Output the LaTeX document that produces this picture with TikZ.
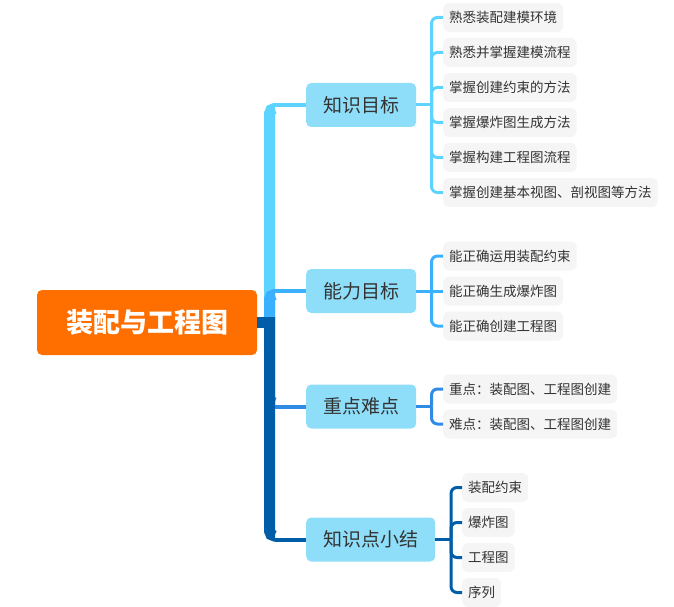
\documentclass[tikz,border=0pt]{standalone}
\usepackage{fontspec}
\setmainfont{Noto Sans CJK SC}

\definecolor{rootorange}{HTML}{FF6F00}
\definecolor{topicfill}{HTML}{8EDEF9}
\definecolor{leaffill}{HTML}{F5F5F5}
\definecolor{textgray}{HTML}{333333}
\definecolor{brA}{HTML}{5CD4FF}
\definecolor{brB}{HTML}{3BB0FF}
\definecolor{brC}{HTML}{2E8CE6}
\definecolor{brD}{HTML}{005EA8}

\tikzset{
  rootbox/.style={fill=rootorange, text=white, rounded corners=5pt,
    minimum width=220pt, minimum height=65pt,
    font=\fontsize{27}{30}\selectfont\bfseries},
  topicbox/.style={fill=topicfill, text=textgray, rounded corners=5pt,
    anchor=west, minimum height=44pt, inner xsep=17pt,
    font=\fontsize{19}{22}\selectfont},
  leafbox/.style={fill=leaffill, text=textgray, rounded corners=6pt,
    anchor=west, minimum height=29pt, inner xsep=6pt,
    font=\fontsize{13.5}{16}\selectfont},
  trunk/.style={line width=11pt, rounded corners=5pt},
  twig/.style={line width=4pt},
  leafline/.style={line width=3pt, rounded corners=6pt},
}

\begin{document}
\begin{tikzpicture}[x=1pt, y=-1pt]
\useasboundingbox (0,0) rectangle (674,607);

% root
\node[rootbox] (root) at (147,322.5) {装配与工程图};
\coordinate (hub) at (269.5,322.5);

% main topics
\node[topicbox] (know) at (306,105) {知识目标};
\node[topicbox] (skill) at (306,291) {能力目标};
\node[topicbox] (focus) at (306,406.5) {重点难点};
\node[topicbox] (summ) at (306,539.5) {知识点小结};

% main branches
\draw[trunk, brA] (hub) -- (269.5,108.5) -- (275,108.5);
\draw[twig, brA] (275,105) -- (know.west);
\draw[trunk, brB] (hub) -- (269.5,294.5) -- (275,294.5);
\draw[twig, brB] (275,291) -- (skill.west);
\draw[trunk, brC] (hub) -- (269.5,403) -- (275,403);
\draw[twig, brC] (275,406.5) -- (focus.west);
\draw[trunk, brD] (269.5,317) -- (269.5,536) -- (275,536);
\draw[twig, brD] (275,539.5) -- (summ.west);
\draw[line width=11pt, brD] (root.east) -- (275,322.5);

% knowledge goals
\node[leafbox] (k1) at (443,17.5) {熟悉装配建模环境};
\node[leafbox] (k2) at (443,52.5) {熟悉并掌握建模流程};
\node[leafbox] (k3) at (443,87.5) {掌握创建约束的方法};
\node[leafbox] (k4) at (443,122.5) {掌握爆炸图生成方法};
\node[leafbox] (k5) at (443,157.5) {掌握构建工程图流程};
\node[leafbox] (k6) at (443,192.5) {掌握创建基本视图、剖视图等方法};
\coordinate (knowfork) at (431.5,105);
\draw[leafline, brA] (know.east) -- (knowfork);
\foreach \n in {k1,k2,k3,k4,k5,k6}
  \draw[leafline, brA] (knowfork) |- (\n.west);

% skill goals
\node[leafbox] (s1) at (443,256) {能正确运用装配约束};
\node[leafbox] (s2) at (443,291) {能正确生成爆炸图};
\node[leafbox] (s3) at (443,326) {能正确创建工程图};
\coordinate (skillfork) at (431.5,291);
\draw[leafline, brB] (skill.east) -- (s2.west);
\foreach \n in {s1,s3}
  \draw[leafline, brB] (skillfork) |- (\n.west);

% key points
\node[leafbox] (f1) at (443,389) {重点：装配图、工程图创建};
\node[leafbox] (f2) at (443,424) {难点：装配图、工程图创建};
\coordinate (focusfork) at (431.5,406.5);
\draw[leafline, brC] (focus.east) -- (focusfork);
\foreach \n in {f1,f2}
  \draw[leafline, brC] (focusfork) |- (\n.west);

% summary
\node[leafbox] (m1) at (462,487.5) {装配约束};
\node[leafbox] (m2) at (462,522.5) {爆炸图};
\node[leafbox] (m3) at (462,557.5) {工程图};
\node[leafbox] (m4) at (462,592.5) {序列};
\coordinate (summfork) at (451,539.5);
\draw[leafline, brD] (summ.east) -- (summfork);
\foreach \n in {m1,m2,m3,m4}
  \draw[leafline, brD] (summfork) |- (\n.west);

\end{tikzpicture}
\end{document}
